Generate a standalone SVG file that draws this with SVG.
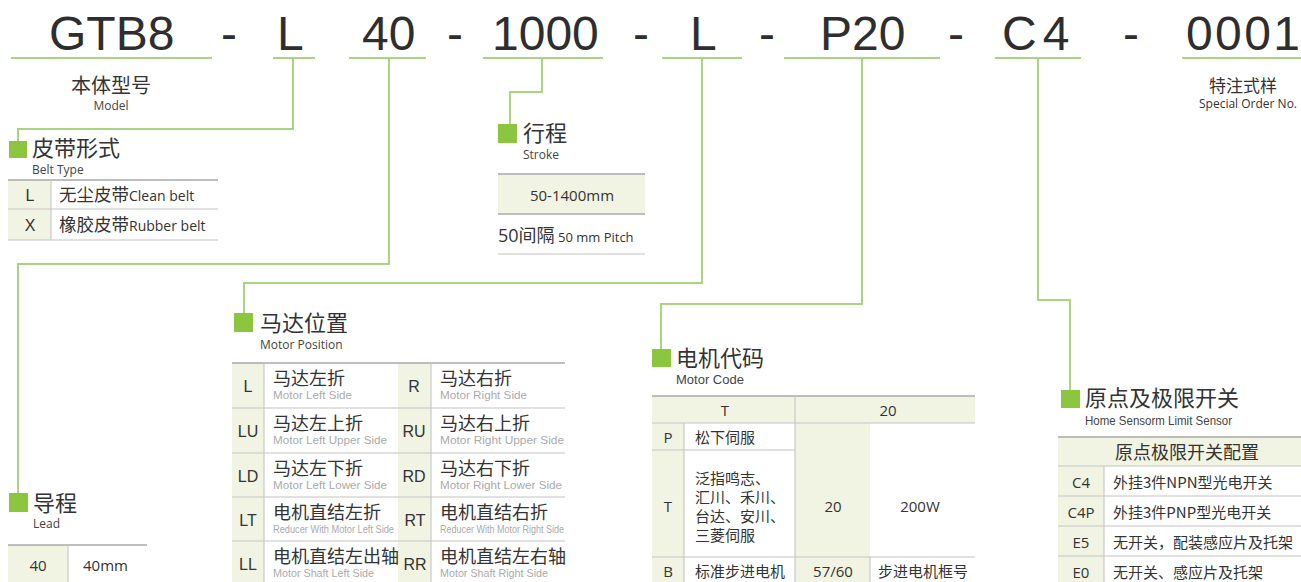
<svg xmlns="http://www.w3.org/2000/svg" width="1301" height="582" viewBox="0 0 1301 582">
<style>
.hd{font-family:"Liberation Sans",Arial,sans-serif;font-size:48px;fill:#2e2e2e}
.ul{stroke:#a9d580;stroke-width:2;fill:none}
.con{stroke:#a9d580;stroke-width:2;fill:none}
.sq{fill:#8cc63e}
.ti{font-family:"Noto Sans CJK SC",sans-serif;font-size:22px;fill:#333}
.st{font-family:"Open Sans","Noto Sans",sans-serif;font-size:12px;fill:#444}
.sn{font-family:"Liberation Sans",Arial,sans-serif;font-size:13px;fill:#444}
.cn{font-family:"Noto Sans CJK SC",sans-serif;fill:#333}
.mp{font-family:"Noto Sans CJK SC",sans-serif;fill:#333;font-size:18px}
.en{font-family:"Open Sans","Noto Sans",sans-serif;fill:#333}
.lg{font-family:"Liberation Sans",Arial,sans-serif;font-size:11.5px;fill:#aaa}
.cd{font-family:"Liberation Sans",Arial,sans-serif;font-size:16px;fill:#333}
.bg{fill:#f2f4e3}
.tl{stroke:#a8a8a8;stroke-width:1.5}
.rl{stroke:#c4c4c4;stroke-width:1.2}
.vl{stroke:#c8c8c8;stroke-width:1.2}
</style>

<g id="header">
<text class="hd" x="49" y="50">GTB8</text>
<text class="hd" x="229" y="50" text-anchor="middle">-</text>
<text class="hd" x="277" y="50">L</text>
<text class="hd" x="362" y="50">40</text>
<text class="hd" x="455" y="50" text-anchor="middle">-</text>
<text class="hd" x="492" y="50">1000</text>
<text class="hd" x="641" y="50" text-anchor="middle">-</text>
<text class="hd" x="690" y="50">L</text>
<text class="hd" x="767" y="50" text-anchor="middle">-</text>
<text class="hd" x="820" y="50">P20</text>
<text class="hd" x="956" y="50" text-anchor="middle">-</text>
<text class="hd" x="1002" y="50" letter-spacing="6">C4</text>
<text class="hd" x="1131" y="50" text-anchor="middle">-</text>
<text class="hd" x="1186" y="50" textLength="114">0001</text>
<line class="ul" x1="11" y1="58" x2="212" y2="58"/>
<line class="ul" x1="273" y1="58" x2="315" y2="58"/>
<line class="ul" x1="349" y1="58" x2="426" y2="58"/>
<line class="ul" x1="483" y1="58" x2="603" y2="58"/>
<line class="ul" x1="662" y1="58" x2="742" y2="58"/>
<line class="ul" x1="784" y1="58" x2="940" y2="58"/>
<line class="ul" x1="995" y1="58" x2="1081" y2="58"/>
<line class="ul" x1="1182" y1="58" x2="1301" y2="58"/>
</g>

<g id="model">
<text class="cn" x="111" y="93" font-size="20" text-anchor="middle">本体型号</text>
<text class="st" x="111" y="110" text-anchor="middle">Model</text>
</g>

<g id="special">
<text class="cn" x="1243" y="92" font-size="17" text-anchor="middle">特注式样</text>
<text class="st" x="1248" y="108" text-anchor="middle" style="fill:#333">Special Order No.</text>
</g>

<g id="connectors">
<path class="con" d="M293 58 V129 H18 V141"/>
<path class="con" d="M389 58 V264 H18 V493"/>
<path class="con" d="M542 58 V92 H510 V124"/>
<path class="con" d="M702 58 V283 H244 V313"/>
<path class="con" d="M862 58 V304 H661 V349"/>
<path class="con" d="M1038 58 V300 H1070 V390"/>
</g>

<g id="belt-type">
<rect class="sq" x="9" y="141" width="18" height="17"/>
<text class="ti" x="32" y="156">皮带形式</text>
<text class="st" x="32" y="174" font-size="11">Belt Type</text>
<rect class="bg" x="8" y="180" width="43" height="60"/>
<line class="tl" x1="8" y1="180" x2="218" y2="180"/>
<line class="rl" x1="8" y1="209" x2="218" y2="209"/>
<line class="rl" x1="8" y1="240" x2="218" y2="240"/>
<line class="vl" x1="51" y1="180" x2="51" y2="240"/>
<text class="cd" x="30" y="201" text-anchor="middle" font-size="17">L</text>
<text class="cn" x="59" y="201" font-size="17.5">无尘皮带<tspan class="en" font-size="14" fill="#888">Clean belt</tspan></text>
<text class="cd" x="30" y="231" text-anchor="middle" font-size="17">X</text>
<text class="cn" x="59" y="231" font-size="17.5">橡胶皮带<tspan class="en" font-size="14" fill="#888">Rubber belt</tspan></text>
</g>

<g id="stroke">
<rect class="sq" x="498" y="124" width="19" height="19"/>
<text class="ti" x="523" y="141">行程</text>
<text class="st" x="523" y="159">Stroke</text>
<rect class="bg" x="498" y="174" width="147" height="40"/>
<line class="tl" x1="498" y1="174" x2="645" y2="174"/>
<line class="tl" x1="498" y1="214" x2="645" y2="214"/>
<line class="rl" x1="498" y1="254" x2="645" y2="254"/>
<text class="en" x="572" y="201" font-size="15" text-anchor="middle">50-1400mm</text>
<text class="cn" x="498" y="242" font-size="18"><tspan class="en">50</tspan>间隔<tspan class="en" font-size="13" fill="#999"> 50 mm Pitch</tspan></text>
</g>

<g id="motor-position">
<rect class="sq" x="234" y="313" width="19" height="19"/>
<text class="ti" x="260" y="331">马达位置</text>
<text class="st" x="260" y="349" font-size="13">Motor Position</text>
<rect class="bg" x="232" y="363" width="32" height="219"/>
<rect class="bg" x="398" y="363" width="33" height="219"/>
<line class="tl" x1="232" y1="363" x2="565" y2="363"/>
<line class="rl" x1="232" y1="408" x2="565" y2="408"/>
<line class="rl" x1="232" y1="453" x2="565" y2="453"/>
<line class="rl" x1="232" y1="497" x2="565" y2="497"/>
<line class="rl" x1="232" y1="541" x2="565" y2="541"/>
<line class="vl" x1="264" y1="363" x2="264" y2="582"/>
<line class="vl" x1="431" y1="363" x2="431" y2="582"/>

<text class="cd" x="248" y="392" text-anchor="middle">L</text>
<text class="mp" x="273" y="385">马达左折</text>
<text class="lg" x="273" y="399" textLength="79" lengthAdjust="spacingAndGlyphs">Motor Left Side</text>
<text class="cd" x="414" y="392" text-anchor="middle">R</text>
<text class="mp" x="440" y="385">马达右折</text>
<text class="lg" x="440" y="399" textLength="87" lengthAdjust="spacingAndGlyphs">Motor Right Side</text>

<text class="cd" x="248" y="437" text-anchor="middle">LU</text>
<text class="mp" x="273" y="430">马达左上折</text>
<text class="lg" x="273" y="444" textLength="114" lengthAdjust="spacingAndGlyphs">Motor Left Upper Side</text>
<text class="cd" x="414" y="437" text-anchor="middle">RU</text>
<text class="mp" x="440" y="430">马达右上折</text>
<text class="lg" x="440" y="444" textLength="124" lengthAdjust="spacingAndGlyphs">Motor Right Upper Side</text>

<text class="cd" x="248" y="482" text-anchor="middle">LD</text>
<text class="mp" x="273" y="475">马达左下折</text>
<text class="lg" x="273" y="489" textLength="114" lengthAdjust="spacingAndGlyphs">Motor Left Lower Side</text>
<text class="cd" x="414" y="482" text-anchor="middle">RD</text>
<text class="mp" x="440" y="475">马达右下折</text>
<text class="lg" x="440" y="489" textLength="122" lengthAdjust="spacingAndGlyphs">Motor Right Lower Side</text>

<text class="cd" x="248" y="526" text-anchor="middle">LT</text>
<text class="mp" x="273" y="519" font-size="17.5">电机直结左折</text>
<text class="lg" x="273" y="533" font-size="10" style="font-size:10px" textLength="121" lengthAdjust="spacingAndGlyphs">Reducer With Motor Left Side</text>
<text class="cd" x="415" y="526" text-anchor="middle">RT</text>
<text class="mp" x="440" y="519" font-size="17.5">电机直结右折</text>
<text class="lg" x="440" y="533" style="font-size:10px" textLength="124" lengthAdjust="spacingAndGlyphs">Reducer With Motor Right Side</text>

<text class="cd" x="248" y="570" text-anchor="middle">LL</text>
<text class="mp" x="273" y="563" font-size="17.5">电机直结左出轴</text>
<text class="lg" x="273" y="577" textLength="101" lengthAdjust="spacingAndGlyphs">Motor Shaft Left Side</text>
<text class="cd" x="415" y="570" text-anchor="middle">RR</text>
<text class="mp" x="440" y="563" font-size="17.5">电机直结左右轴</text>
<text class="lg" x="440" y="577" textLength="108" lengthAdjust="spacingAndGlyphs">Motor Shaft Right Side</text>
</g>

<g id="motor-code">
<rect class="sq" x="652" y="349" width="19" height="18"/>
<text class="ti" x="676" y="366">电机代码</text>
<text class="sn" x="676" y="384">Motor Code</text>
<rect class="bg" x="652" y="396" width="323" height="27"/>
<rect class="bg" x="652" y="423" width="32" height="159"/>
<rect class="bg" x="795" y="423" width="75" height="159"/>
<line class="tl" x1="652" y1="396" x2="975" y2="396"/>
<line class="rl" x1="652" y1="423" x2="975" y2="423"/>
<line class="rl" x1="652" y1="450" x2="795" y2="450"/>
<line class="rl" x1="652" y1="557" x2="975" y2="557"/>
<line class="vl" x1="795" y1="396" x2="795" y2="582"/>
<line class="vl" x1="684" y1="423" x2="684" y2="582"/>
<line class="vl" x1="870" y1="557" x2="870" y2="582"/>
<text class="en" x="725" y="416" font-size="15" text-anchor="middle">T</text>
<text class="en" x="888" y="416" font-size="15" text-anchor="middle">20</text>
<text class="en" x="668" y="443" font-size="15" text-anchor="middle">P</text>
<text class="cn" x="695" y="443" font-size="15">松下伺服</text>
<text class="en" x="668" y="512" font-size="15" text-anchor="middle">T</text>
<text class="cn" x="695" y="484" font-size="15">泛指鸣志、</text>
<text class="cn" x="695" y="503" font-size="15">汇川、禾川、</text>
<text class="cn" x="695" y="522" font-size="15">台达、安川、</text>
<text class="cn" x="695" y="541" font-size="15">三菱伺服</text>
<text class="en" x="833" y="512" font-size="15" text-anchor="middle">20</text>
<text class="en" x="920" y="512" font-size="15" text-anchor="middle">200W</text>
<text class="en" x="668" y="577" font-size="15" text-anchor="middle">B</text>
<text class="cn" x="695" y="577" font-size="15">标准步进电机</text>
<text class="en" x="833" y="577" font-size="15" text-anchor="middle">57/60</text>
<text class="cn" x="923" y="577" font-size="15" text-anchor="middle">步进电机框号</text>
</g>

<g id="home-sensor">
<rect class="sq" x="1061" y="390" width="19" height="18"/>
<text class="ti" x="1085" y="406">原点及极限开关</text>
<text class="lg" x="1085" y="425" textLength="147" lengthAdjust="spacingAndGlyphs" style="fill:#444;font-size:12px">Home Sensorm Limit Sensor</text>
<rect class="bg" x="1058" y="437" width="243" height="29"/>
<rect class="bg" x="1058" y="466" width="46" height="116"/>
<line class="tl" x1="1058" y1="437" x2="1301" y2="437"/>
<line class="rl" x1="1058" y1="466" x2="1301" y2="466"/>
<line class="rl" x1="1058" y1="496" x2="1301" y2="496"/>
<line class="rl" x1="1058" y1="526" x2="1301" y2="526"/>
<line class="rl" x1="1058" y1="556" x2="1301" y2="556"/>
<line class="vl" x1="1104" y1="466" x2="1104" y2="582"/>
<text class="cn" x="1187" y="459" font-size="18" text-anchor="middle">原点极限开关配置</text>
<text class="en" x="1081" y="488" font-size="15" text-anchor="middle">C4</text>
<text class="cn" x="1113" y="488" font-size="15">外挂3件NPN型光电开关</text>
<text class="en" x="1081" y="518" font-size="15" text-anchor="middle">C4P</text>
<text class="cn" x="1113" y="518" font-size="15">外挂3件PNP型光电开关</text>
<text class="en" x="1081" y="548" font-size="15" text-anchor="middle">E5</text>
<text class="cn" x="1113" y="548" font-size="15">无开关，配装感应片及托架</text>
<text class="en" x="1081" y="578" font-size="15" text-anchor="middle">E0</text>
<text class="cn" x="1113" y="578" font-size="15">无开关、感应片及托架</text>
</g>

<g id="lead">
<rect class="sq" x="9" y="493" width="19" height="19"/>
<text class="ti" x="33" y="511">导程</text>
<text class="st" x="33" y="528" font-size="13">Lead</text>
<rect class="bg" x="8" y="545" width="60" height="37"/>
<line class="tl" x1="8" y1="545" x2="147" y2="545"/>
<line class="vl" x1="68" y1="545" x2="68" y2="582"/>
<text class="en" x="38" y="571" font-size="15" text-anchor="middle">40</text>
<text class="en" x="83" y="571" font-size="15">40mm</text>
</g>
</svg>
